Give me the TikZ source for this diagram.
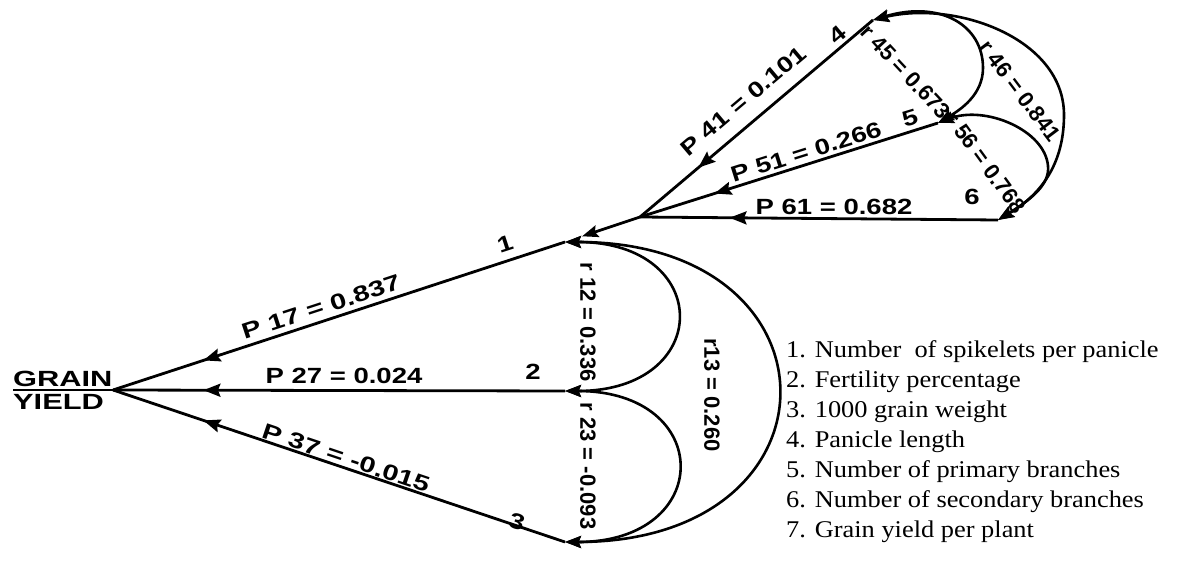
\documentclass[tikz,border=0pt]{standalone}
\usepackage{fontspec}
\usepackage{graphicx}
\setmainfont{Liberation Serif}
\newfontfamily\labfont{Liberation Sans}
\usetikzlibrary{arrows.meta,decorations.markings}
\newcommand\sxlab[1]{\scalebox{1.25}[1]{#1}}
\newcommand\sxlabw[1]{\scalebox{1.32}[1]{#1}}
\newcommand\sxgy[1]{\scalebox{1.4}[1]{#1}}
\newcommand\sxleg[1]{\scalebox{1.1}[1]{#1}}
\tikzset{
  conn/.style={line width=2.8pt},
  corr/.style={line width=2.6pt,{Stealth[length=16pt,width=12pt,inset=2.5pt]}-{Stealth[length=16pt,width=12pt,inset=2.5pt]}},
  tipend/.style={-{Stealth[length=16pt,width=12pt,inset=2.5pt]}},
  midarr/.style={postaction={decorate,decoration={markings,mark=at position #1 with {\arrow{Stealth[length=17pt,width=13pt,inset=2.5pt]}}}}},
  lbl/.style={font=\labfont\bfseries\fontsize{22}{22}\selectfont,inner sep=0pt},
  rlbl/.style={font=\labfont\bfseries\fontsize{22}{22}\selectfont,inner sep=0pt},
  leg/.style={font=\fontsize{24}{24}\selectfont,inner sep=0pt,anchor=base west},
}
\begin{document}
\begin{tikzpicture}[x=1pt,y=-1pt]
\useasboundingbox (0,0) rectangle (1178,569);
% points
\coordinate (J0) at (113,390);
\coordinate (ul) at (13,390);
\coordinate (n1) at (565,242);
\coordinate (n2) at (565,391);
\coordinate (n3) at (565,542);
\coordinate (J1) at (640,217);
\coordinate (n4) at (873,20);
\coordinate (n5) at (938,123);
\coordinate (n6) at (998,220);
% grain yield
\node[lbl,anchor=south west] (grain) at (13,387) {\sxgy{GRAIN}};
\node[lbl,anchor=north west] (yield) at (13,394) {\sxgy{YIELD}};
\draw[conn] (ul) -- (J0);
% path lines to grain yield
\draw[conn,midarr=0.8] (n1) -- (J0);
\draw[conn,midarr=0.8] (n2) -- (J0);
\draw[conn,midarr=0.8] (n3) -- (J0);
% upper fan
\draw[conn,midarr=0.75] (n4) -- (J1);
\draw[conn,midarr=0.75] (n5) -- (J1);
\draw[conn,midarr=0.75] (n6) -- (J1);
\draw[conn,tipend,shorten >=18pt] (J1) -- (n1);
% correlation arcs
\draw[corr] (n1) .. controls +(149,0) and +(149,0) .. (n2);
\draw[corr] (n2) .. controls +(150,0) and +(150,0) .. (n3);
\draw[corr] (n1) .. controls +(283,0) and +(283,0) .. (n3);
\draw[corr] (n4) .. controls (940,0) and (983,25) .. (983,68) .. controls (983,95) and (960,110) .. (n5);
\draw[corr] (n4) .. controls (955,0) and (1064,38) .. (1064,115) .. controls (1064,170) and (1035,198) .. (n6);
\draw[corr] (n5) .. controls (985,105) and (1045,130) .. (1048,166) .. controls (1050,185) and (1030,200) .. (n6);
% path labels
\node[lbl,rotate=18.1] (p17) at (321,307) {\sxlabw{P 17 = 0.837}};
\node[lbl] (p27) at (344,376) {\sxlab{P 27 = 0.024}};
\node[lbl,rotate=-18.6] (p37) at (346,458) {\sxlabw{P 37 = -0.015}};
\node[lbl,rotate=40.2] (p41) at (743,101) {\sxlab{P 41 = 0.101}};
\node[lbl,rotate=17.5] (p51) at (806,152) {\sxlab{P 51 = 0.266}};
\node[lbl] (p61) at (834,207) {\sxlab{P 61 = 0.682}};
% node numbers
\node[lbl,rotate=18] (l1) at (505,244) {\sxlab{1}};
\node[lbl] (l2) at (533,372) {\sxlab{2}};
\node[lbl,rotate=-18] (l3) at (517,522) {\sxlab{3}};
\node[lbl,rotate=40] (l4) at (837,35) {\sxlab{4}};
\node[lbl,rotate=17] (l5) at (910,118) {\sxlab{5}};
\node[lbl] (l6) at (972,197) {\sxlab{6}};
% correlation labels
\node[rlbl,rotate=-90] (r12) at (588,322) {r 12 = 0.336};
\node[rlbl,rotate=-90] (r23) at (588,466) {r 23 = -0.093};
\node[rlbl,rotate=-90] (r13) at (712,395) {r13 = 0.260};
\node[lbl,rotate=-47] (r45) at (906,72) {r 45 = 0.673};
\node[lbl,rotate=-53] (r46) at (1020,91) {r 46 = 0.841};
\node[lbl,rotate=-54] (r56) at (986,163) {r 56 = 0.768};
% legend
\node[leg] (g1) at (786,357) {\sxleg{1. Number~ of spikelets per panicle}};
\node[leg] (g2) at (786,387) {\sxleg{2. Fertility percentage}};
\node[leg] (g3) at (786,417) {\sxleg{3. 1000 grain weight}};
\node[leg] (g4) at (786,447) {\sxleg{4. Panicle length}};
\node[leg] (g5) at (786,477) {\sxleg{5. Number of primary branches}};
\node[leg] (g6) at (786,507) {\sxleg{6. Number of secondary branches}};
\node[leg] (g7) at (786,537) {\sxleg{7. Grain yield per plant}};
\end{tikzpicture}
\end{document}
